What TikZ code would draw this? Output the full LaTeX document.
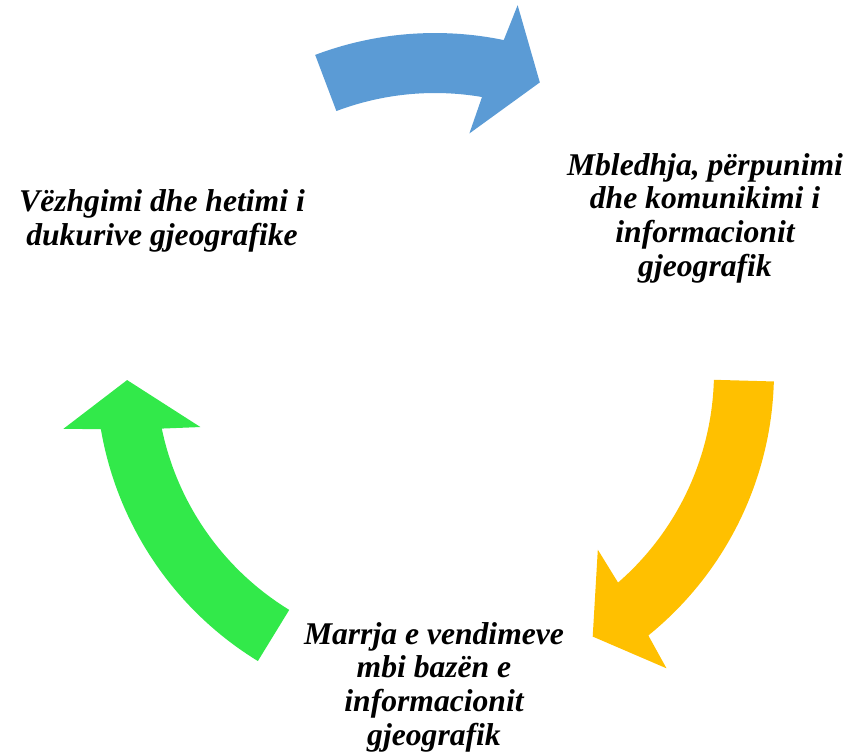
\documentclass[tikz,border=0pt]{standalone}
\usepackage{fontspec}
\setmainfont{Liberation Serif}
\usetikzlibrary{positioning}
\definecolor{cycleblue}{RGB}{91,155,213}
\definecolor{cycleyellow}{RGB}{255,192,0}
\definecolor{cyclegreen}{RGB}{50,233,74}

% curved block arrow: colour, tail angle, head base angle
\newcommand{\cyclearrow}[3]{%
  \fill[#1] (#2:279) arc[start angle=#2, end angle=#3+1, radius=279]
    -- (#3+2.5:241) -- (#3-9.2:308) -- (#3-2:376) -- (#3-1:339)
    arc[start angle=#3-1, end angle=#2, radius=339] -- cycle;}

\begin{document}
\begin{tikzpicture}[
        x=0.02cm, y=0.02cm,
        phase/.style={align=center, font=\fontsize{18}{19.2}\selectfont\bfseries\itshape}
    ]
        \useasboundingbox (-435,-383) rectangle (416,372);
        \coordinate (c) at (0,0);

        \cyclearrow{cycleblue}{110.7}{79.3}
        \cyclearrow{cycleyellow}{-1.6}{-50}
        \cyclearrow{cyclegreen}{238.5}{190.7}

        \node[phase] (observe) at (-273,151) {Vëzhgimi dhe hetimi i\\dukurive gjeografike};
        \node[phase] (collect) at (270,154) {Mbledhja, përpunimi\\dhe komunikimi i\\informacionit\\gjeografik};
        \node[phase] (decide) at (-1,-315) {Marrja e vendimeve\\mbi bazën e\\informacionit\\gjeografik};
    \end{tikzpicture}
\end{document}
